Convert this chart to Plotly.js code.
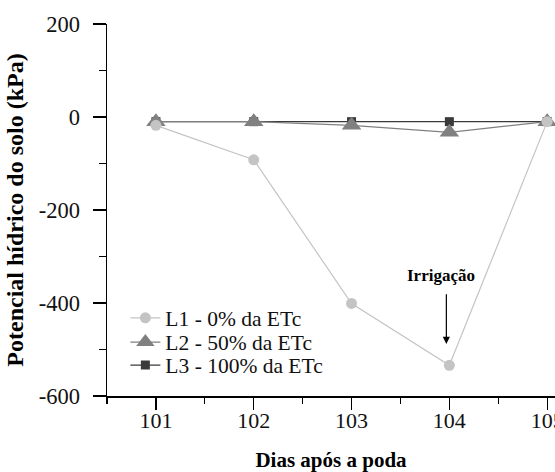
<!DOCTYPE html>
<html>
<head>
<meta charset="utf-8">
<script src="https://cdn.plot.ly/plotly-3.0.1.min.js"></script>
<style>
  html, body { margin: 0; padding: 0; background: #fff; }
  #chart { width: 555px; height: 472px; }
</style>
</head>
<body>
<div id="chart"></div>
<script>
// Days after pruning
const dias = [101, 102, 103, 104, 105];

// Soil water potential (kPa) per irrigation level
const l1 = [-18, -92, -401, -534, -10];
const l2 = [-10, -10, -18, -33, -10];
const l3 = [-10, -10, -10, -10, -10];

const seriesNames = ['L1 - 0% da ETc', 'L2 - 50% da ETc', 'L3 - 100% da ETc'];

// Y tick values and labels (plain hyphen for negatives)
const yTicks = [-600, -400, -200, 0, 200];
const yTickText = ['-600', '-400', '-200', '0', '200'];

// Irrigation event marker
const irrigDia = 104;
const irrigTexto = 'Irrigação';
const irrigTopo = -378;
const irrigPonta = -488;

const serif = 'Liberation Serif';

const traces = [
  {
    x: dias, y: l3, name: seriesNames[2], type: 'scatter', mode: 'lines+markers',
    legend: 'legend3',
    line: { color: '#3a3a3a', width: 1.2 },
    marker: { symbol: 'square', size: 9, color: '#3a3a3a' }
  },
  {
    x: dias, y: l2, name: seriesNames[1], type: 'scatter', mode: 'lines+markers',
    legend: 'legend2',
    line: { color: '#808080', width: 1.2 },
    marker: { symbol: 'triangle-up', size: 17, color: '#808080' }
  },
  {
    x: dias, y: l1, name: seriesNames[0], type: 'scatter', mode: 'lines+markers',
    legend: 'legend',
    line: { color: '#c4c4c4', width: 1.2 },
    marker: { symbol: 'circle', size: 11, color: '#c4c4c4' }
  }
];

// one legend box per series so the rows sit tightly stacked
function legendBox(yPos) {
  return {
    x: 0.041, y: yPos, xanchor: 'left', yanchor: 'middle',
    bgcolor: 'rgba(0,0,0,0)', borderwidth: 0,
    font: { family: serif, size: 21.5, color: '#111' }
  };
}

const layout = {
  width: 555, height: 472,
  margin: { l: 107, r: 0, t: 24, b: 76 },
  paper_bgcolor: '#fff', plot_bgcolor: '#fff',
  font: { family: serif, size: 22, color: '#111' },
  showlegend: true,
  legend: legendBox(0.21),
  legend2: legendBox(0.145),
  legend3: legendBox(0.083),
  xaxis: {
    range: [100.5, 105.08],
    tickmode: 'linear', tick0: 101, dtick: 1,
    ticks: 'outside', ticklen: 12, tickwidth: 1.3, tickcolor: '#000',
    minor: { tickmode: 'linear', tick0: 100.5, dtick: 0.5, ticks: 'outside', ticklen: 6, tickwidth: 1.3, tickcolor: '#000' },
    showline: true, linecolor: '#000', linewidth: 1.5,
    showgrid: false, zeroline: false,
    ticklabeloverflow: 'allow',
    ticklabelstandoff: -8,
    tickfont: { family: serif, size: 22, color: '#111' },
    title: { text: '<b>Dias após a poda</b>', font: { family: serif, size: 21, color: '#000' }, standoff: 35 }
  },
  yaxis: {
    range: [-600, 200],
    tickmode: 'array', tickvals: yTicks, ticktext: yTickText,
    ticks: 'outside', ticklen: 13, tickwidth: 1.3, tickcolor: '#000',
    minor: { tickmode: 'linear', tick0: -600, dtick: 100, ticks: 'outside', ticklen: 7, tickwidth: 1.3, tickcolor: '#000' },
    showline: true, linecolor: '#000', linewidth: 1.5,
    showgrid: false, zeroline: false,
    ticklabelstandoff: 8,
    tickfont: { family: serif, size: 22.5, color: '#111' },
    title: { text: '<b>Potencial hídrico do solo (kPa)</b>', font: { family: serif, size: 24, color: '#000' }, standoff: 8 }
  },
  annotations: [
    {
      x: irrigDia, y: irrigTopo, xref: 'x', yref: 'y',
      text: '<b>' + irrigTexto + '</b>', showarrow: false,
      yanchor: 'bottom', yshift: 6, xshift: -8,
      font: { family: serif, size: 17, color: '#000' }
    },
    {
      x: irrigDia, y: irrigPonta, xref: 'x', yref: 'y',
      ax: irrigDia, ay: irrigTopo, axref: 'x', ayref: 'y',
      text: '', showarrow: true, xshift: -3,
      arrowhead: 2, arrowsize: 1.2, arrowwidth: 1.2, arrowcolor: '#000'
    }
  ]
};

Plotly.newPlot('chart', traces, layout, { displayModeBar: false, staticPlot: true });
</script>
</body>
</html>
